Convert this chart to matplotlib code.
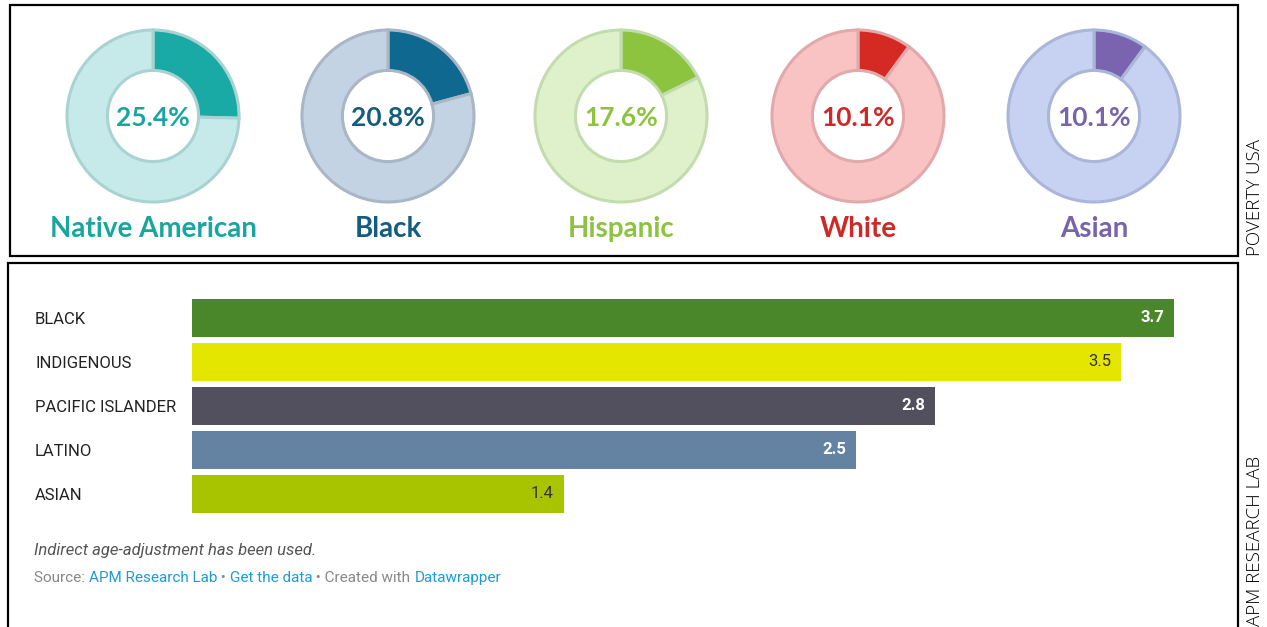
import matplotlib.pyplot as plt
from matplotlib.patches import Rectangle

W, H = 1267, 627

# donut data (poverty rate by group)
groups = ['Native American', 'Black', 'Hispanic', 'White', 'Asian']
rates = [25.4, 20.8, 17.6, 10.1, 10.1]
dark_cols = ['#19aaa6', '#0e6890', '#8cc43f', '#d52a24', '#7a64b0']
light_cols = ['#c6eaea', '#c4d3e3', '#def1cb', '#f9c3c4', '#c7d2f3']
edge_cols = ['#a9d3d3', '#a9b6c6', '#c3dcae', '#e2a9ab', '#aab6d9']
text_cols = ['#1ba5a1', '#155d7e', '#8dc33e', '#cc2927', '#7864ad']

# bar data
cats = ['BLACK', 'INDIGENOUS', 'PACIFIC ISLANDER', 'LATINO', 'ASIAN']
vals = [3.7, 3.5, 2.8, 2.5, 1.4]
bar_cols = ['#4a872a', '#e4e600', '#52505f', '#6482a1', '#a8c400']
val_cols = ['white', '#333333', 'white', 'white', '#333333']

# source line pieces
src_parts = ['Source: ', 'APM Research Lab', ' \u2022 ', 'Get the data',
             ' \u2022 Created with ', 'Datawrapper']
src_cols = ['#888888', '#1a9cd8', '#888888', '#1a9cd8', '#888888', '#1a9cd8']


def box(x, y, w, h):
    # pixel box (top-left origin) -> figure fraction rect
    return [x / W, 1 - (y + h) / H, w / W, h / H]


fig = plt.figure(figsize=(W / 100, H / 100), dpi=100)

# frames
fig.patches.append(Rectangle((10 / W, 1 - 256 / H), 1228 / W, 251 / H,
                             transform=fig.transFigure, fill=False,
                             edgecolor='black', linewidth=1.6))
fig.patches.append(Rectangle((8 / W, -0.05), 1230 / W, 1 - 263 / H + 0.05,
                             transform=fig.transFigure, fill=False,
                             edgecolor='black', linewidth=1.6))

# donuts
centers = [153, 388, 621, 858, 1094]
R = 86
for i, g in enumerate(groups):
    ax = fig.add_axes(box(centers[i] - 1.05 * R, 116 - 1.05 * R, 2.1 * R, 2.1 * R))
    ax.pie([rates[i], 100 - rates[i]], colors=[dark_cols[i], light_cols[i]],
           startangle=90, counterclock=False,
           wedgeprops=dict(width=0.47, edgecolor=edge_cols[i], linewidth=2.2))
    ax.set_xlim(-1.05, 1.05)
    ax.set_ylim(-1.05, 1.05)
    ax.set_aspect('equal')
    ax.axis('off')
    ax.text(0, -0.02, f'{rates[i]}%', ha='center', va='center', fontsize=19,
            fontweight='bold', family='Lato', color=text_cols[i])
    ax.text(0, -1.31, g, ha='center', va='center', fontsize=20,
            fontweight='bold', family='Lato', color=text_cols[i])

# bar chart
scale = 265.4  # px per unit
axb = fig.add_axes(box(192, 296, 1000, 220))
axb.barh(range(len(cats)), vals, height=0.86, color=bar_cols)
axb.set_xlim(0, 1000 / scale)
axb.set_ylim(4.5, -0.5)
axb.set_yticks(range(len(cats)), labels=cats)
for lbl in axb.get_yticklabels():
    lbl.set_ha('left')
    lbl.set_family('Roboto')
axb.tick_params(axis='y', length=0, pad=113, labelsize=12, labelcolor='#222222')
axb.set_xticks([])
for s in axb.spines.values():
    s.set_visible(False)
for i, v in enumerate(vals):
    axb.annotate(f'{v}', (v, i), xytext=(-7, 0), textcoords='offset points',
                 ha='right', va='center', fontsize=12, family='Roboto',
                 color=val_cols[i],
                 fontweight='bold' if val_cols[i] == 'white' else 'normal')

# notes
fig.text(34 / W, 1 - 550 / H, 'Indirect age-adjustment has been used.',
         fontsize=12, style='italic', family='Roboto', color='#555555',
         va='center')
last = fig.text(34 / W, 1 - 582 / H, src_parts[0], fontsize=11,
                family='Roboto', color=src_cols[0], va='baseline')
for txt, col in zip(src_parts[1:], src_cols[1:]):
    last = axb.annotate(txt, xy=(1, 0), xycoords=last, ha='left',
                        va='bottom', fontsize=11, family='Roboto',
                        color=col, annotation_clip=False)

# side credits
fig.text(1255 / W, 1 - 256 / H, 'POVERTY USA', rotation=90, ha='center',
         va='bottom', fontsize=13.5, family='Open Sans', fontweight='light')
fig.text(1255 / W, 1 / H, 'APM RESEARCH LAB', rotation=90, ha='center',
         va='bottom', fontsize=13.5, family='Open Sans', fontweight='light')

fig.savefig('out.png', dpi=100)
